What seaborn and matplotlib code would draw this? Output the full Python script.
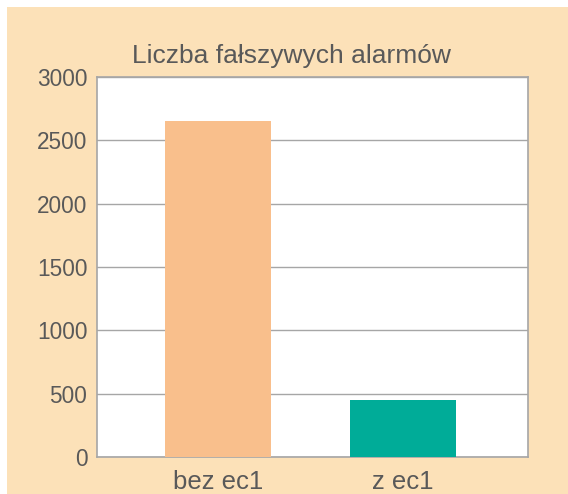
import matplotlib
matplotlib.use('Agg')
import matplotlib.pyplot as plt
import matplotlib.patches as mpatches
import seaborn as sns
import pandas as pd

# Data
categories = ['bez ec1', 'z ec1']
alarms = [2650, 450]
bar_colors = ['#F9BF8C', '#00AC98']
title = 'Liczba fałszywych alarmów'

sns.set_style('white')
plt.rcParams['font.family'] = ['Liberation Sans', 'DejaVu Sans']

text_col = '#595959'
grid_col = '#A6A6A6'

fig = plt.figure(figsize=(5.68, 4.94), dpi=100)
fig.patch.set_facecolor('white')
# peach panel (white strip on top and left)
fig.patches.append(mpatches.Rectangle((7 / 568, 0), 1, 1 - 7 / 494, transform=fig.transFigure,
                                      facecolor='#FCE1B8', edgecolor='none', zorder=-10))

ax = fig.add_axes([97 / 568, 1 - 457 / 494, 431 / 568, 380 / 494])

df = pd.DataFrame({'cat': categories, 'val': alarms})
sns.barplot(data=df, x='cat', y='val', hue='cat', palette=bar_colors, width=0.571,
            legend=False, saturation=1, linewidth=0, edgecolor='none', ax=ax, zorder=3)

ax.set_facecolor('white')
ax.set_ylim(0, 3000)
ax.set_xlim(-0.654, 1.676)
ax.set_yticks(range(0, 3001, 500))
ax.yaxis.grid(True, color=grid_col, linewidth=1, zorder=0)
ax.set_axisbelow(True)
for s in ax.spines.values():
    s.set_visible(True)
    s.set_color(grid_col)
    s.set_linewidth(1.2)

ax.tick_params(axis='both', length=0, colors=text_col)
ax.tick_params(axis='x', pad=9, labelsize=18.5)
ax.tick_params(axis='y', pad=7, labelsize=16.3)
ax.set_xlabel('')
ax.set_ylabel('')
ax.set_title(title, fontsize=19, color=text_col, pad=10, x=0.45)

plt.savefig('out.png', dpi=100)
